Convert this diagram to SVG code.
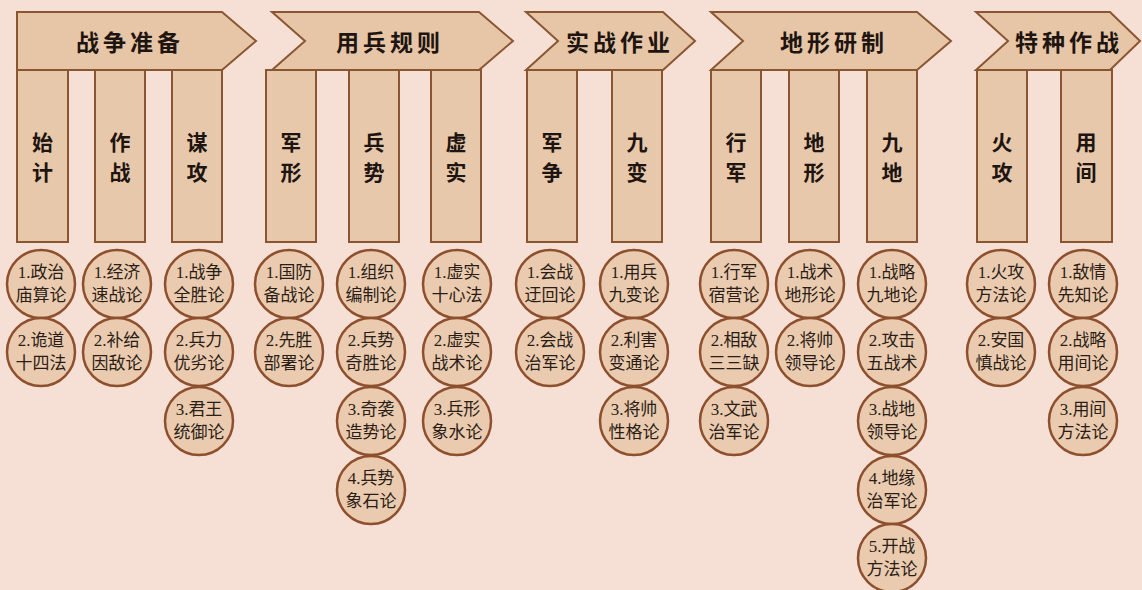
<svg xmlns="http://www.w3.org/2000/svg" width="1142" height="590" viewBox="0 0 1142 590">
<style>
.bg{fill:#f6dfd5}
.hd{fill:#e7c5a7;stroke:#8a5632;stroke-width:2}
.col{fill:#e8c8ab;stroke:#8a5632;stroke-width:2}
.ht{font-family:"Noto Sans CJK SC","Noto Sans CJK TC",sans-serif;font-weight:700;font-size:23px;fill:#1e1510;text-anchor:middle;dominant-baseline:central;letter-spacing:4px}
.ct{font-family:"Noto Sans CJK SC","Noto Sans CJK TC",sans-serif;font-weight:700;font-size:21px;fill:#1e1510;text-anchor:middle;dominant-baseline:central}
.cir{fill:#eacbb0;stroke:#8e4f2d;stroke-width:2.5}
.lt{font-family:"Liberation Serif","Noto Sans CJK SC",serif;font-size:17px;fill:#2a1d15;text-anchor:middle;dominant-baseline:central}
</style>
<rect class="bg" x="0" y="0" width="1142" height="590"/>

<g id="header-1"><path class="hd" d="M17,12 L222,12 L256,41 L222,70 L17,70 Z"/><text class="ht" x="130" y="41">战争准备</text></g>
<g id="header-2"><path class="hd" d="M272,12 L479,12 L513,41 L479,70 L272,70 L305,41 Z"/><text class="ht" x="390" y="41">用兵规则</text></g>
<g id="header-3"><path class="hd" d="M526,12 L663,12 L695,41 L663,70 L526,70 L558,41 Z"/><text class="ht" x="620" y="41">实战作业</text></g>
<g id="header-4"><path class="hd" d="M711,12 L917,12 L951,41 L917,70 L711,70 L743,41 Z"/><text class="ht" x="834" y="41">地形研制</text></g>
<g id="header-5"><path class="hd" d="M976,12 L1110,12 L1140,41 L1110,70 L976,70 L1008,41 Z"/><text class="ht" x="1069" y="41">特种作战</text></g>

<g id="col-shiji"><rect class="col" x="17" y="70" width="51" height="172"/><text class="ct" x="42.5" y="141">始</text><text class="ct" x="42.5" y="171">计</text></g>
<g id="col-zuozhan"><rect class="col" x="95" y="70" width="50" height="172"/><text class="ct" x="120" y="141">作</text><text class="ct" x="120" y="171">战</text></g>
<g id="col-mougong"><rect class="col" x="172" y="70" width="50" height="172"/><text class="ct" x="197" y="141">谋</text><text class="ct" x="197" y="171">攻</text></g>
<g id="col-junxing"><rect class="col" x="266" y="70" width="50" height="172"/><text class="ct" x="291" y="141">军</text><text class="ct" x="291" y="171">形</text></g>
<g id="col-bingshi"><rect class="col" x="349" y="70" width="50" height="172"/><text class="ct" x="374" y="141">兵</text><text class="ct" x="374" y="171">势</text></g>
<g id="col-xushi"><rect class="col" x="431" y="70" width="50" height="172"/><text class="ct" x="456" y="141">虚</text><text class="ct" x="456" y="171">实</text></g>
<g id="col-junzheng"><rect class="col" x="527" y="70" width="50" height="172"/><text class="ct" x="552" y="141">军</text><text class="ct" x="552" y="171">争</text></g>
<g id="col-jiubian"><rect class="col" x="612" y="70" width="50" height="172"/><text class="ct" x="637" y="141">九</text><text class="ct" x="637" y="171">变</text></g>
<g id="col-xingjun"><rect class="col" x="711" y="70" width="50" height="172"/><text class="ct" x="736" y="141">行</text><text class="ct" x="736" y="171">军</text></g>
<g id="col-dixing"><rect class="col" x="789" y="70" width="50" height="172"/><text class="ct" x="814" y="141">地</text><text class="ct" x="814" y="171">形</text></g>
<g id="col-jiudi"><rect class="col" x="867" y="70" width="50" height="172"/><text class="ct" x="892" y="141">九</text><text class="ct" x="892" y="171">地</text></g>
<g id="col-huogong"><rect class="col" x="977" y="70" width="50" height="172"/><text class="ct" x="1002" y="141">火</text><text class="ct" x="1002" y="171">攻</text></g>
<g id="col-yongjian"><rect class="col" x="1061" y="70" width="51" height="172"/><text class="ct" x="1086" y="141">用</text><text class="ct" x="1086" y="171">间</text></g>

<g id="connectors"></g>

<g id="c-shiji-1"><circle class="cir" cx="41" cy="284" r="34"/><text class="lt" x="41" y="272">1.政治</text><text class="lt" x="41" y="295">庙算论</text></g>
<g id="c-shiji-2"><circle class="cir" cx="41" cy="352" r="34"/><text class="lt" x="41" y="340">2.诡道</text><text class="lt" x="41" y="363">十四法</text></g>
<g id="c-zuozhan-1"><circle class="cir" cx="117" cy="284" r="34"/><text class="lt" x="117" y="272">1.经济</text><text class="lt" x="117" y="295">速战论</text></g>
<g id="c-zuozhan-2"><circle class="cir" cx="117" cy="352" r="34"/><text class="lt" x="117" y="340">2.补给</text><text class="lt" x="117" y="363">因敌论</text></g>
<g id="c-mougong-1"><circle class="cir" cx="199" cy="284" r="34"/><text class="lt" x="199" y="272">1.战争</text><text class="lt" x="199" y="295">全胜论</text></g>
<g id="c-mougong-2"><circle class="cir" cx="199" cy="352" r="34"/><text class="lt" x="199" y="340">2.兵力</text><text class="lt" x="199" y="363">优劣论</text></g>
<g id="c-mougong-3"><circle class="cir" cx="199" cy="421" r="34"/><text class="lt" x="199" y="409">3.君王</text><text class="lt" x="199" y="432">统御论</text></g>
<g id="c-junxing-1"><circle class="cir" cx="289" cy="284" r="34"/><text class="lt" x="289" y="272">1.国防</text><text class="lt" x="289" y="295">备战论</text></g>
<g id="c-junxing-2"><circle class="cir" cx="289" cy="352" r="34"/><text class="lt" x="289" y="340">2.先胜</text><text class="lt" x="289" y="363">部署论</text></g>
<g id="c-bingshi-1"><circle class="cir" cx="371" cy="284" r="34"/><text class="lt" x="371" y="272">1.组织</text><text class="lt" x="371" y="295">编制论</text></g>
<g id="c-bingshi-2"><circle class="cir" cx="371" cy="352" r="34"/><text class="lt" x="371" y="340">2.兵势</text><text class="lt" x="371" y="363">奇胜论</text></g>
<g id="c-bingshi-3"><circle class="cir" cx="371" cy="421" r="34"/><text class="lt" x="371" y="409">3.奇袭</text><text class="lt" x="371" y="432">造势论</text></g>
<g id="c-bingshi-4"><circle class="cir" cx="371" cy="490" r="34"/><text class="lt" x="371" y="478">4.兵势</text><text class="lt" x="371" y="501">象石论</text></g>
<g id="c-xushi-1"><circle class="cir" cx="457" cy="284" r="34"/><text class="lt" x="457" y="272">1.虚实</text><text class="lt" x="457" y="295">十心法</text></g>
<g id="c-xushi-2"><circle class="cir" cx="457" cy="352" r="34"/><text class="lt" x="457" y="340">2.虚实</text><text class="lt" x="457" y="363">战术论</text></g>
<g id="c-xushi-3"><circle class="cir" cx="457" cy="421" r="34"/><text class="lt" x="457" y="409">3.兵形</text><text class="lt" x="457" y="432">象水论</text></g>
<g id="c-junzheng-1"><circle class="cir" cx="550" cy="284" r="34"/><text class="lt" x="550" y="272">1.会战</text><text class="lt" x="550" y="295">迂回论</text></g>
<g id="c-junzheng-2"><circle class="cir" cx="550" cy="352" r="34"/><text class="lt" x="550" y="340">2.会战</text><text class="lt" x="550" y="363">治军论</text></g>
<g id="c-jiubian-1"><circle class="cir" cx="634" cy="284" r="34"/><text class="lt" x="634" y="272">1.用兵</text><text class="lt" x="634" y="295">九变论</text></g>
<g id="c-jiubian-2"><circle class="cir" cx="634" cy="352" r="34"/><text class="lt" x="634" y="340">2.利害</text><text class="lt" x="634" y="363">变通论</text></g>
<g id="c-jiubian-3"><circle class="cir" cx="634" cy="421" r="34"/><text class="lt" x="634" y="409">3.将帅</text><text class="lt" x="634" y="432">性格论</text></g>
<g id="c-xingjun-1"><circle class="cir" cx="734" cy="284" r="34"/><text class="lt" x="734" y="272">1.行军</text><text class="lt" x="734" y="295">宿营论</text></g>
<g id="c-xingjun-2"><circle class="cir" cx="734" cy="352" r="34"/><text class="lt" x="734" y="340">2.相敌</text><text class="lt" x="734" y="363">三三缺</text></g>
<g id="c-xingjun-3"><circle class="cir" cx="734" cy="421" r="34"/><text class="lt" x="734" y="409">3.文武</text><text class="lt" x="734" y="432">治军论</text></g>
<g id="c-dixing-1"><circle class="cir" cx="810" cy="284" r="34"/><text class="lt" x="810" y="272">1.战术</text><text class="lt" x="810" y="295">地形论</text></g>
<g id="c-dixing-2"><circle class="cir" cx="810" cy="352" r="34"/><text class="lt" x="810" y="340">2.将帅</text><text class="lt" x="810" y="363">领导论</text></g>
<g id="c-jiudi-1"><circle class="cir" cx="892" cy="284" r="34"/><text class="lt" x="892" y="272">1.战略</text><text class="lt" x="892" y="295">九地论</text></g>
<g id="c-jiudi-2"><circle class="cir" cx="892" cy="352" r="34"/><text class="lt" x="892" y="340">2.攻击</text><text class="lt" x="892" y="363">五战术</text></g>
<g id="c-jiudi-3"><circle class="cir" cx="892" cy="421" r="34"/><text class="lt" x="892" y="409">3.战地</text><text class="lt" x="892" y="432">领导论</text></g>
<g id="c-jiudi-4"><circle class="cir" cx="892" cy="490" r="34"/><text class="lt" x="892" y="478">4.地缘</text><text class="lt" x="892" y="501">治军论</text></g>
<g id="c-jiudi-5"><circle class="cir" cx="892" cy="558" r="34"/><text class="lt" x="892" y="546">5.开战</text><text class="lt" x="892" y="569">方法论</text></g>
<g id="c-huogong-1"><circle class="cir" cx="1001" cy="284" r="34"/><text class="lt" x="1001" y="272">1.火攻</text><text class="lt" x="1001" y="295">方法论</text></g>
<g id="c-huogong-2"><circle class="cir" cx="1001" cy="352" r="34"/><text class="lt" x="1001" y="340">2.安国</text><text class="lt" x="1001" y="363">慎战论</text></g>
<g id="c-yongjian-1"><circle class="cir" cx="1083" cy="284" r="34"/><text class="lt" x="1083" y="272">1.敌情</text><text class="lt" x="1083" y="295">先知论</text></g>
<g id="c-yongjian-2"><circle class="cir" cx="1083" cy="352" r="34"/><text class="lt" x="1083" y="340">2.战略</text><text class="lt" x="1083" y="363">用间论</text></g>
<g id="c-yongjian-3"><circle class="cir" cx="1083" cy="421" r="34"/><text class="lt" x="1083" y="409">3.用间</text><text class="lt" x="1083" y="432">方法论</text></g>
</svg>
